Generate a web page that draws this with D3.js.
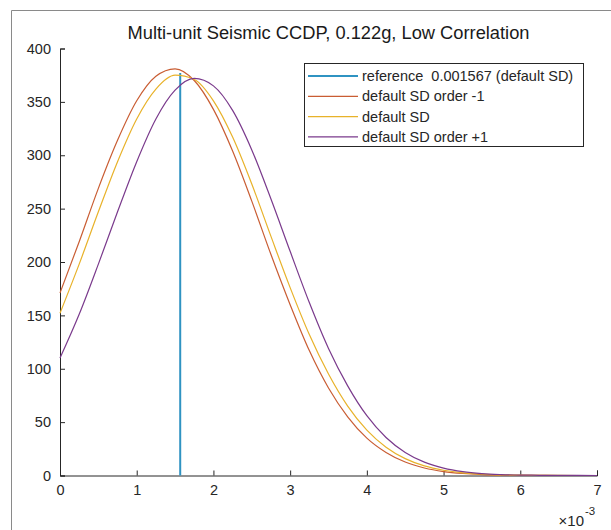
<!DOCTYPE html>
<html>
<head>
<meta charset="utf-8">
<script src="https://cdn.jsdelivr.net/npm/d3@7"></script>
<style>
  body { margin: 0; background: #fff; }
  svg { display: block; font-family: "Liberation Sans", Arial, sans-serif; }
</style>
</head>
<body>
<svg id="chart"></svg>
<script>
const width = 611;
const height = 530;

// x in units of 1e-3
const xVals = [0, 0.25, 0.5, 0.75, 1, 1.25, 1.5, 1.75, 2, 2.25, 2.5, 2.75, 3, 3.25, 3.5,
    3.75, 4, 4.25, 4.5, 4.75, 5, 5.25, 5.5, 5.75, 6, 6.25, 6.5, 6.75, 7];
const orderMinus1 = [171, 219, 269, 314, 351, 374, 381, 370, 343, 304, 257, 207, 160, 117, 82,
    55, 35, 21.6, 12.6, 7, 3.7, 1.9, 0.9, 0.4, 0.2, 0.1, 0, 0, 0];
const defaultSD = [152, 198, 247, 294, 334, 362, 375, 371, 351, 317, 273, 224, 176, 132, 95,
    65, 42.5, 26.5, 15.8, 9, 4.9, 2.5, 1.3, 0.6, 0.3, 0.1, 0.05, 0, 0];
const orderPlus1 = [110, 151, 198, 247, 294, 334, 361, 372, 365, 342, 305, 259, 210, 162, 119,
    84, 56, 35.6, 21.6, 12.5, 6.9, 3.6, 1.8, 0.9, 0.4, 0.2, 0.07, 0.03, 0.01];
const referenceX = 1.567;
const referenceTop = 377;

const seriesNames = ["reference  0.001567 (default SD)", "default SD order -1", "default SD", "default SD order +1"];
const seriesColors = ["#2f93c2", "#c95d33", "#e8b22a", "#7a3a8c"];
const xTicks = [0, 1, 2, 3, 4, 5, 6, 7];
const yTicks = [0, 50, 100, 150, 200, 250, 300, 350, 400];

const svg = d3.select("#chart")
    .attr("width", width)
    .attr("height", height);

// figure frame
svg.append("path")
    .attr("d", `M11.5,${height} V10.5 H${width}`)
    .attr("fill", "none")
    .attr("stroke", "#8a8a8a")
    .attr("stroke-width", 1);

const x = d3.scaleLinear().domain([0, 7]).range([60, 597]);
const y = d3.scaleLinear().domain([0, 400]).range([475.5, 48.5]);

const axisColor = "#262626";

// x axis
const xAxis = svg.append("g")
    .attr("transform", `translate(0,${y(0)})`)
    .call(d3.axisBottom(x).tickValues(xTicks).tickSize(-5).tickPadding(9).tickFormat(d3.format("d")));
// y axis
const yAxis = svg.append("g")
    .attr("transform", `translate(${x(0)},0)`)
    .call(d3.axisLeft(y).tickValues(yTicks).tickSize(-5).tickPadding(9).tickFormat(d3.format("d")));

[xAxis, yAxis].forEach(g => {
    g.select(".domain").attr("stroke", axisColor).attr("stroke-width", 1);
    g.selectAll(".tick line").attr("stroke", axisColor);
    g.selectAll(".tick text")
        .attr("fill", axisColor)
        .attr("font-size", 14.5)
        .attr("font-family", "'Liberation Sans', Arial, sans-serif");
});

// exponent label
svg.append("text")
    .attr("x", 584)
    .attr("y", 526)
    .attr("text-anchor", "end")
    .attr("fill", axisColor)
    .attr("font-size", 15)
    .text("\u00d710");
svg.append("text")
    .attr("x", 585)
    .attr("y", 515)
    .attr("fill", axisColor)
    .attr("font-size", 11.5)
    .text("-3");

// title
svg.append("text")
    .attr("x", (x(0) + x(7)) / 2)
    .attr("y", 39)
    .attr("text-anchor", "middle")
    .attr("fill", "#1a1a1a")
    .attr("font-size", 18.3)
    .text("Multi-unit Seismic CCDP, 0.122g, Low Correlation");

const line = d3.line()
    .x((d, i) => x(xVals[i]))
    .y(d => y(d))
    .curve(d3.curveMonotoneX);

const plot = svg.append("g");

// reference line
plot.append("line")
    .attr("x1", x(referenceX)).attr("x2", x(referenceX))
    .attr("y1", y(0)).attr("y2", y(referenceTop))
    .attr("stroke", seriesColors[0])
    .attr("stroke-width", 2);

[orderMinus1, defaultSD, orderPlus1].forEach((s, i) => {
    plot.append("path")
        .datum(s)
        .attr("d", line)
        .attr("fill", "none")
        .attr("stroke", seriesColors[i + 1])
        .attr("stroke-width", 1.2);
});

// legend
const legend = svg.append("g");
legend.append("rect")
    .attr("x", 304.5).attr("y", 63.5)
    .attr("width", 279).attr("height", 83)
    .attr("fill", "#fff")
    .attr("stroke", axisColor)
    .attr("stroke-width", 1);
seriesNames.forEach((name, i) => {
    const ly = 76 + i * 20.3;
    legend.append("line")
        .attr("x1", 308).attr("x2", 358)
        .attr("y1", ly).attr("y2", ly)
        .attr("stroke", seriesColors[i])
        .attr("stroke-width", i === 0 ? 2 : 1.2);
    legend.append("text")
        .attr("x", 362)
        .attr("y", ly + 5)
        .attr("fill", axisColor)
        .attr("font-size", 14.5)
        .style("white-space", "pre")
        .text(name);
});
</script>
</body>
</html>
